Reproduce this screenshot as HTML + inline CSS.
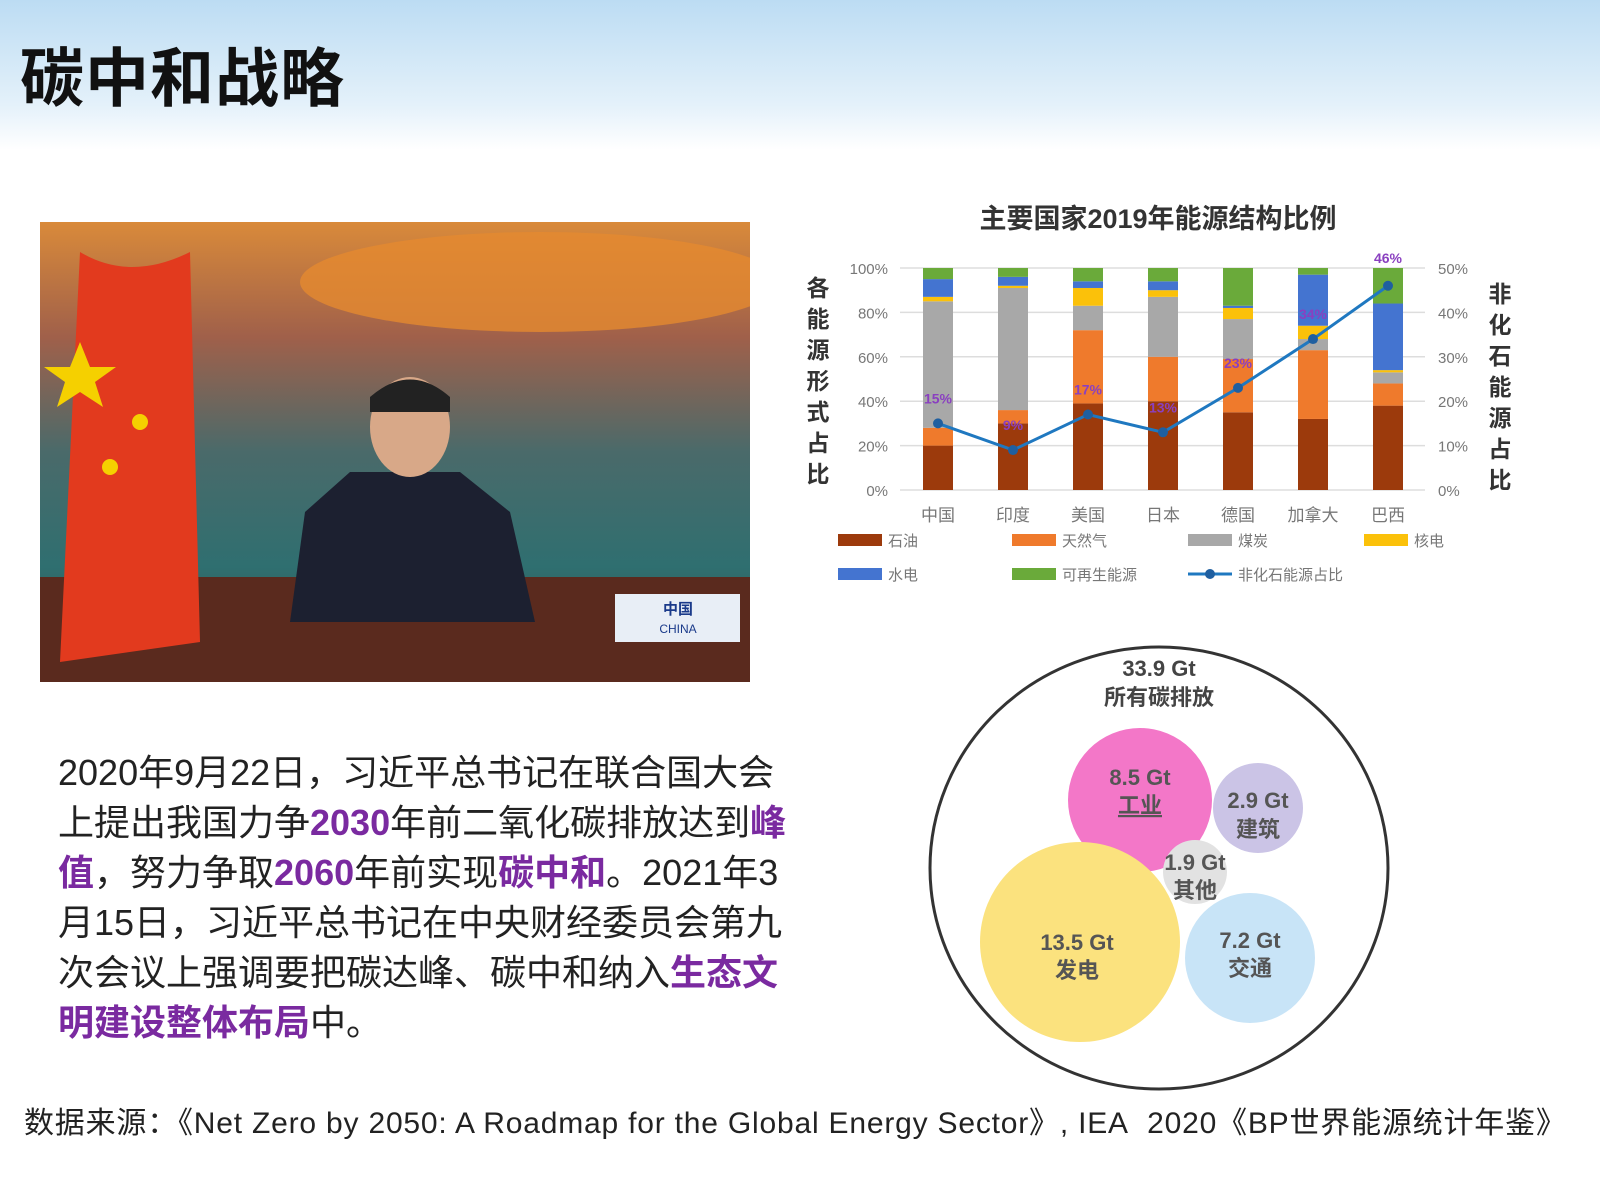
<!DOCTYPE html>
<html><head><meta charset="utf-8"><style>
body{margin:0;width:1600px;height:1200px;overflow:hidden;background:#fff;font-family:"Liberation Sans","Noto Sans CJK SC",sans-serif;position:relative}
.abs{position:absolute}
#hdr{left:0;top:0;width:1600px;height:150px;background:linear-gradient(#bcdcf3,#e4f1fa 70%,#fff)}
#title{left:20px;top:28px;font-size:64px;font-weight:bold;color:#111;letter-spacing:1px}
#body{left:58px;top:748px;width:780px;font-size:36px;line-height:50px;color:#222;white-space:nowrap}
.hl{color:#7a2aa0;font-weight:bold}
#src{left:24px;top:1098px;font-size:30px;color:#222;white-space:nowrap;letter-spacing:0.8px}
</style></head><body>
<div class="abs" id="hdr"></div>
<div class="abs" id="title">碳中和战略</div>

<svg class="abs" style="left:40px;top:222px" width="710" height="460">
<defs><linearGradient id="sky" x1="0" y1="0" x2="0" y2="1"><stop offset="0" stop-color="#d98a3a"/><stop offset="0.25" stop-color="#a0604a"/><stop offset="0.5" stop-color="#4a6a6a"/><stop offset="0.75" stop-color="#2f6f70"/><stop offset="1" stop-color="#3a4a40"/></linearGradient></defs>
<rect width="710" height="460" fill="url(#sky)"/>
<ellipse cx="500" cy="60" rx="240" ry="50" fill="#e58a30" opacity="0.8"/>
<rect y="355" width="710" height="105" fill="#5a2a1e"/>
<path d="M40 30 Q90 60 150 30 L160 420 L20 440 Z" fill="#e23a1e"/>
<polygon points="40,120 50,145 76,145 55,160 63,185 40,170 17,185 25,160 4,145 30,145" fill="#f5d000"/>
<circle cx="100" cy="200" r="8" fill="#f5d000"/><circle cx="70" cy="245" r="8" fill="#f5d000"/>
<path d="M265 290 L310 250 L420 250 L470 290 L495 400 L250 400 Z" fill="#1c2030"/>
<ellipse cx="370" cy="205" rx="40" ry="50" fill="#d8a888"/>
<path d="M330 175 Q370 140 410 175 L410 190 L330 190 Z" fill="#222"/>
<rect x="575" y="372" width="125" height="48" fill="#e8eef6"/>
<text x="638" y="392" font-size="15" text-anchor="middle" fill="#1a3a8a" font-weight="bold">中国</text>
<text x="638" y="411" font-size="12" text-anchor="middle" fill="#1a3a8a">CHINA</text>
</svg>

<div class="abs" id="body">2020年9月22日，习近平总书记在联合国大会<br>上提出我国力争<span class="hl">2030</span>年前二氧化碳排放达到<span class="hl">峰</span><br><span class="hl">值</span>，努力争取<span class="hl">2060</span>年前实现<span class="hl">碳中和</span>。2021年3<br>月15日，习近平总书记在中央财经委员会第九<br>次会议上强调要把碳达峰、碳中和纳入<span class="hl">生态文</span><br><span class="hl">明建设整体布局</span>中。</div>

<div class="abs" id="src">数据来源：《Net Zero by 2050: A Roadmap for the Global Energy Sector》, IEA&nbsp; 2020《BP世界能源统计年鉴》</div>

<svg class="abs" id="chart" style="left:0;top:0" width="1600" height="1200"></svg>

<svg class="abs" style="left:0;top:0" width="1600" height="1200">
<ellipse cx="1159" cy="868" rx="229" ry="221" fill="none" stroke="#333" stroke-width="3"/>
<text x="1159" y="676" font-size="22" text-anchor="middle" fill="#444" font-weight="bold">33.9 Gt</text>
<text x="1159" y="705" font-size="22" text-anchor="middle" fill="#444" font-weight="bold">所有碳排放</text>
<circle cx="1140" cy="800" r="72" fill="#f377c8"/>
<circle cx="1258" cy="808" r="45" fill="#cbc4e6"/>
<circle cx="1195" cy="872" r="32" fill="#e2e2e2"/>
<circle cx="1080" cy="942" r="100" fill="#fbe27e"/>
<circle cx="1250" cy="958" r="65" fill="#c8e4f7"/>
<g font-size="22" font-weight="bold" fill="#555" text-anchor="middle">
<text x="1140" y="785">8.5 Gt</text><text x="1140" y="813" text-decoration="underline">工业</text>
<text x="1258" y="808">2.9 Gt</text><text x="1258" y="837">建筑</text>
<text x="1195" y="870">1.9 Gt</text><text x="1195" y="898">其他</text>
<text x="1077" y="950">13.5 Gt</text><text x="1077" y="978">发电</text>
<text x="1250" y="948">7.2 Gt</text><text x="1250" y="976">交通</text>
</g>
</svg>

<script>
const countries=["中国","印度","美国","日本","德国","加拿大","巴西"];
const oil=[20,30,39,40,35,32,38];
const gas=[8,6,33,20,24,31,10];
const coal=[57,55,11,27,18,5,5];
const nuclear=[2,1,8,3,5,6,1];
const hydro=[8,4,3,4,1,23,30];
const renew=[5,4,6,6,17,3,16];
const nonFossil=[15,9,17,13,23,34,46];
const leftTicks=["0%","20%","40%","60%","80%","100%"];
const rightTicks=["0%","10%","20%","30%","40%","50%"];
const NS="http://www.w3.org/2000/svg";
const svg=document.getElementById('chart');
function mk(t,a,p){const e=document.createElementNS(NS,t);for(const k in a)e.setAttribute(k,a[k]);(p||svg).appendChild(e);return e;}
const y0=490,y1=268;
function yL(v){return y0-(v/100)*(y0-y1);}
function yR(v){return y0-(v/50)*(y0-y1);}
function xC(i){return 938+i*75;}
const t=mk('text',{x:1158,y:228,'font-size':27,'font-weight':'bold','text-anchor':'middle',fill:'#333'});t.textContent="主要国家2019年能源结构比例";


leftTicks.forEach((s,i)=>{const y=yL(i*20);
 const g=mk('line',{x1:900,x2:1425,y1:y,y2:y,stroke:'#ddd','stroke-width':1.5});
 
 
 const a=mk('text',{x:888,y:y+6,'font-size':15,'text-anchor':'end',fill:'#777'});a.textContent=s;
 
 
 const b=mk('text',{x:1438,y:y+6,'font-size':15,fill:'#777'});b.textContent=rightTicks[i];
 
 });
"各能源形式占比".split('').forEach((c,i)=>{const e=mk('text',{x:818,y:296+i*31,'font-size':23,'font-weight':'bold','text-anchor':'middle',fill:'#333'});e.textContent=c;
 
 });
"非化石能源占比".split('').forEach((c,i)=>{const e=mk('text',{x:1500,y:302+i*31,'font-size':23,'font-weight':'bold','text-anchor':'middle',fill:'#333'});e.textContent=c;
 
 });
const series=[[oil,'#9c3a0c'],[gas,'#ef7a2c'],[coal,'#a8a8a8'],[nuclear,'#fbc10a'],[hydro,'#4474d0'],[renew,'#6aaa3a']];
countries.forEach((c,i)=>{let acc=0;
 series.forEach(s=>{const v=s[0][i];const r=mk('rect',{x:xC(i)-15,width:30,y:yL(acc+v),height:yL(acc)-yL(acc+v),fill:s[1]});
  
  acc+=v;});
 const l=mk('text',{x:xC(i),y:521,'font-size':17,'text-anchor':'middle',fill:'#777'});l.textContent=c;
 
 });
const pts=nonFossil.map((v,i)=>xC(i)+','+yR(v)).join(' ');
const pl=mk('polyline',{points:pts,fill:'none',stroke:'#1f78c0','stroke-width':3});


nonFossil.forEach((v,i)=>{const d=mk('circle',{cx:xC(i),cy:yR(v),r:5,fill:'#1f5fa0'});
 
 
 const l=mk('text',{x:xC(i),y:(i==6?yL(100)-5:yR(v)-20),'font-size':14,'font-weight':'bold','text-anchor':'middle',fill:'#8a40c0'});l.textContent=v+'%';
 
 });
const legend=[['石油','#9c3a0c',838,540],['天然气','#ef7a2c',1012,540],['煤炭','#a8a8a8',1188,540],['核电','#fbc10a',1364,540],['水电','#4474d0',838,574],['可再生能源','#6aaa3a',1012,574]];
legend.forEach(L=>{const r=mk('rect',{x:L[2],y:L[3]-6,width:44,height:12,fill:L[1]});
 
 
 const tx=mk('text',{x:L[2]+50,y:L[3]+6,'font-size':15,fill:'#777'});tx.textContent=L[0];
 
 });
const ll=mk('line',{x1:1188,x2:1232,y1:574,y2:574,stroke:'#1f78c0','stroke-width':3});


mk('circle',{cx:1210,cy:574,r:5,fill:'#1f5fa0'});
const lt=mk('text',{x:1238,y:580,'font-size':15,fill:'#777'});lt.textContent="非化石能源占比";


</script>
</body></html>
